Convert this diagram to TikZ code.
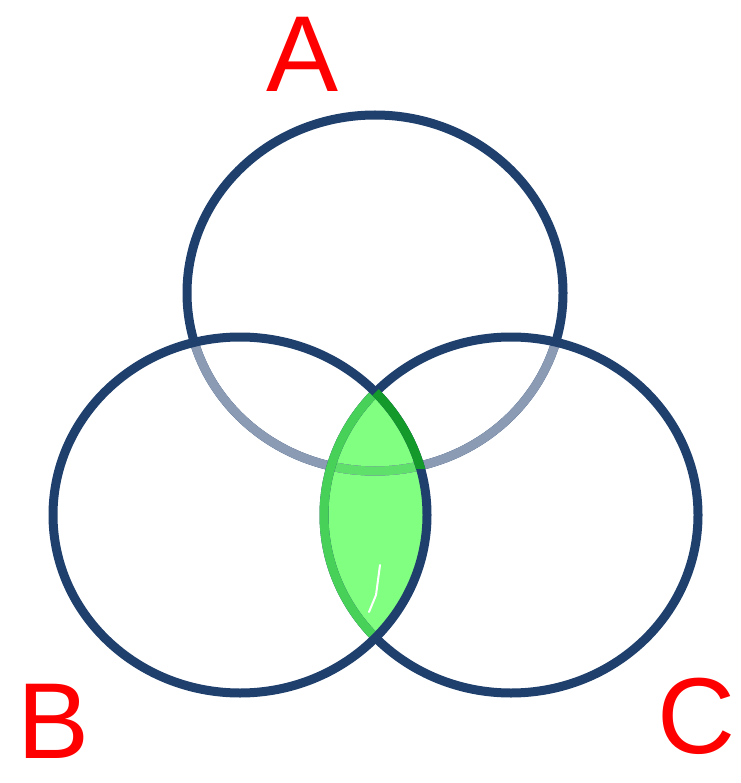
\documentclass[tikz,border=0pt]{standalone}
\usepackage{fontspec}
\setmainfont{Liberation Sans}
\definecolor{vblue}{HTML}{1F3F6D}
\definecolor{vgrey}{HTML}{8B9BB3}
\definecolor{vfill}{HTML}{80FF80}
\definecolor{vgreen}{HTML}{47D159}
\definecolor{vband}{HTML}{5EE06A}
\definecolor{vdark}{HTML}{139A2A}
\definecolor{vred}{HTML}{FF0000}
\tikzset{
  ring/.style={line width=9pt},
  lbl/.style={text=vred, inner sep=0pt, font=\fontsize{108}{108}\selectfont},
}
\begin{document}
\begin{tikzpicture}[x=1pt,y=-1pt]
\useasboundingbox (0,0) rectangle (740,783);
% centres
\coordinate (ca) at (375,293);
\coordinate (cb) at (240,515);
\coordinate (cc) at (511,515);
% lens fill B and C
\begin{scope}
  \clip (cb) ellipse [x radius=187pt, y radius=178pt];
  \fill[vfill] (cc) ellipse [x radius=187pt, y radius=178pt];
\end{scope}
% circle A
\draw[ring, vblue] (ca) ellipse [x radius=188pt, y radius=178pt];
\begin{scope}
  \clip (cb) ellipse [x radius=187pt, y radius=178pt];
  \draw[ring, vgrey] (ca) ellipse [x radius=188pt, y radius=178pt];
\end{scope}
\begin{scope}
  \clip (cc) ellipse [x radius=187pt, y radius=178pt];
  \draw[ring, vgrey] (ca) ellipse [x radius=188pt, y radius=178pt];
\end{scope}
\begin{scope}
  \clip (cb) ellipse [x radius=187pt, y radius=178pt];
  \clip (cc) ellipse [x radius=187pt, y radius=178pt];
  \draw[ring, vband] (ca) ellipse [x radius=188pt, y radius=178pt];
\end{scope}
% circle C
\draw[ring, vblue] (cc) ellipse [x radius=187pt, y radius=178pt];
\begin{scope}
  \clip (cb) ellipse [x radius=187pt, y radius=178pt];
  \draw[ring, vgreen] (cc) ellipse [x radius=187pt, y radius=178pt];
\end{scope}
% circle B
\draw[ring, vblue] (cb) ellipse [x radius=187pt, y radius=178pt];
\begin{scope}
  \clip (cc) ellipse [x radius=187pt, y radius=178pt];
  \clip (300,380) rectangle (460,468);
  \draw[ring, vdark] (cb) ellipse [x radius=187pt, y radius=178pt];
\end{scope}
% glint
\draw[white, line width=2pt, line cap=round] (380,565) -- (376,595) -- (369,612);
% labels
\node[lbl] (la) at (303,54) {A};
\node[lbl] (lb) at (54,721) {B};
\node[lbl] (lc) at (696,716) {C};
\end{tikzpicture}
\end{document}
